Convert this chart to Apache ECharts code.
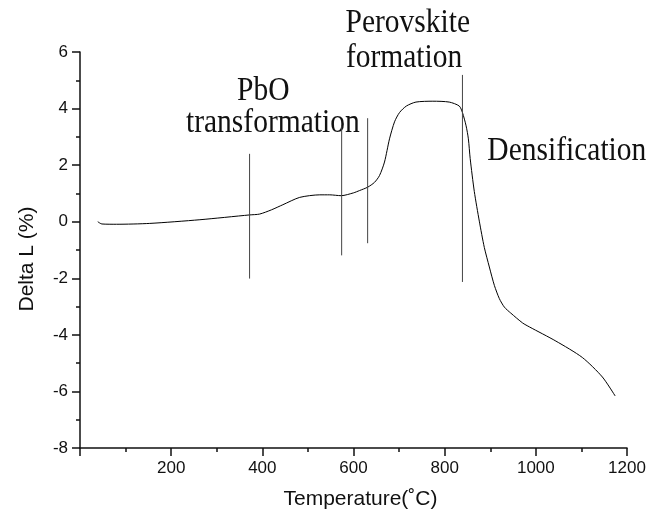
<!DOCTYPE html>
<html><head><meta charset="utf-8">
<script src="https://cdn.jsdelivr.net/npm/echarts@6/dist/echarts.min.js"></script>
<style>html,body{margin:0;padding:0;background:#fff}#c{width:660px;height:515px}</style>
</head><body><div id="c"></div>
<script>
// Dilatometry curve: temperature (°C) vs Delta L (%)
const temperature = [39, 48, 80, 153, 263, 372, 394, 420, 445, 482, 526, 548, 573, 600, 613, 631, 646, 657, 668, 679, 690, 701, 716, 737, 774, 810, 832, 839, 847, 852, 856, 865, 876, 887, 898, 909, 920, 931, 945, 971, 986, 1044, 1102, 1146, 1174];
const deltaL = [0.0, -0.08, -0.09, -0.06, 0.07, 0.24, 0.27, 0.42, 0.6, 0.86, 0.95, 0.95, 0.92, 1.02, 1.10, 1.22, 1.39, 1.63, 2.11, 2.93, 3.53, 3.86, 4.09, 4.23, 4.26, 4.23, 4.09, 3.86, 3.39, 2.93, 2.23, 1.07, 0.02, -0.91, -1.60, -2.25, -2.72, -3.02, -3.23, -3.58, -3.72, -4.22, -4.80, -5.49, -6.16];

// vertical marker lines
const markerX = [372, 574, 631, 839];
const markerTop = [2.40, 3.40, 3.66, 5.19];
const markerBottom = [-2.01, -1.19, -0.76, -2.13];

// annotation texts (anchored in data coordinates)
const annotationText = ['PbO', 'transformation', 'Perovskite', 'formation', 'Densification'];
const annotationX = [402, 423, 719, 711, 1068];
const annotationY = [4.62, 3.50, 7.01, 5.79, 2.51];

const xTickLabels = [200, 400, 600, 800, 1000, 1200];
const yTickLabels = [-8, -6, -4, -2, 0, 2, 4, 6];

const chart = echarts.init(document.getElementById('c'), null, {renderer: 'canvas'});

const axisCommon = {
  type: 'value',
  splitLine: {show: false},
  axisLine: {show: true, onZero: false, lineStyle: {color: '#111', width: 1.5}},
  axisTick: {show: true, inside: false, length: 8, lineStyle: {color: '#111', width: 1.5}},
  minorTick: {show: true, splitNumber: 2, length: 4, lineStyle: {color: '#111', width: 1.5}},
  minorSplitLine: {show: false}
};

const series = [{
  type: 'line',
  data: temperature.map((t, i) => [t, deltaL[i]]),
  symbol: 'none',
  smooth: 0.25,
  lineStyle: {color: '#000', width: 1},
  silent: true
}];
markerX.forEach((x, i) => {
  series.push({
    type: 'line',
    data: [[x, markerTop[i]], [x, markerBottom[i]]],
    symbol: 'none',
    lineStyle: {color: '#444', width: 1},
    silent: true
  });
});

const option = {
  animation: false,
  backgroundColor: '#fff',
  grid: {left: 80, right: 33, top: 52, bottom: 61},
  xAxis: Object.assign({}, axisCommon, {
    min: 0, max: 1200, interval: 200,
    name: 'Temperature(˚C)',
    nameLocation: 'middle',
    nameGap: 41,
    nameTextStyle: {fontFamily: 'Liberation Sans', fontSize: 21, color: '#111', padding: [0, 0, 0, 14]},
    axisLabel: {
      margin: 12,
      fontFamily: 'Liberation Sans', fontSize: 17, color: '#111',
      formatter: v => xTickLabels.includes(v) ? String(v) : ''
    }
  }),
  yAxis: Object.assign({}, axisCommon, {
    min: -8, max: 6, interval: 2,
    name: 'Delta L (%)',
    nameLocation: 'middle',
    nameGap: 42,
    nameTextStyle: {fontFamily: 'Liberation Sans', fontSize: 21, color: '#111', padding: [0, 18, 0, 0]},
    axisLabel: {
      margin: 12,
      fontFamily: 'Liberation Sans', fontSize: 17, color: '#111',
      formatter: v => yTickLabels.includes(v) ? String(v) : ''
    }
  }),
  series: series
};
chart.setOption(option);

const graphics = annotationText.map((t, i) => {
  const p = chart.convertToPixel({gridIndex: 0}, [annotationX[i], annotationY[i]]);
  return {
    type: 'text',
    x: p[0], y: p[1],
    scaleX: 1, scaleY: 1.17,
    silent: true,
    style: {
      text: t,
      fontFamily: 'Liberation Serif',
      fontSize: 29.5,
      fill: '#111',
      align: 'center',
      verticalAlign: 'middle'
    }
  };
});
chart.setOption({graphic: graphics});
</script>
</body></html>
